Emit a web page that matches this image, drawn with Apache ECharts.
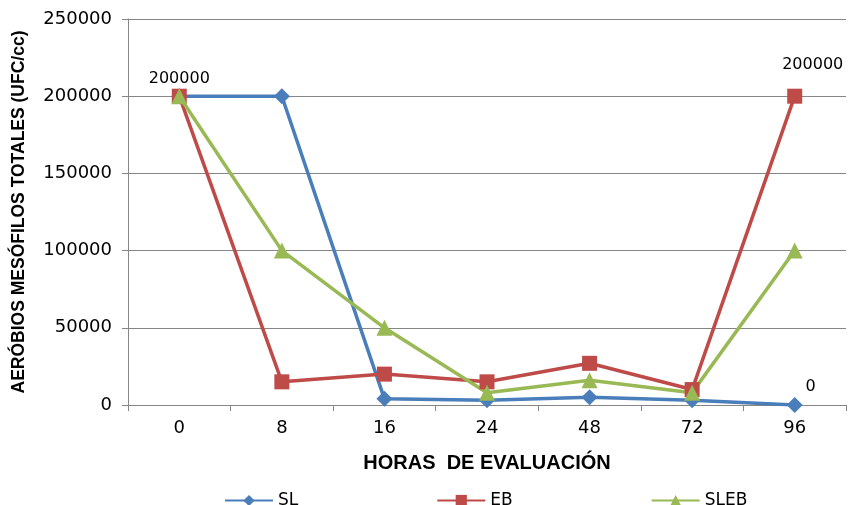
<!DOCTYPE html>
<html><head><meta charset="utf-8">
<script src="https://cdn.jsdelivr.net/npm/echarts@6/dist/echarts.min.js"></script>
<style>html,body{margin:0;padding:0;background:#fff}#c{width:850px;height:505px}</style>
</head><body><div id="c"></div>
<script>
const categories = ['0','8','16','24','48','72','96'];
const SL = [200000, 200000, 4000, 3000, 5000, 3000, 0];
const EB = [200000, 15000, 20000, 15000, 27000, 10000, 200000];
const SLEB = [200000, 100000, 50000, 8000, 16000, 8000, 100000];
const yTicks = [0, 50000, 100000, 150000, 200000, 250000];

const font = 'DejaVu Sans';
function withLabels(arr, labelled) {
  return arr.map((v, i) => labelled[i] ? {value: v, label: {show: true, position: 'inside', offset: labelled[i], color: '#000', fontFamily: font, fontSize: 16}} : v);
}
const chart = echarts.init(document.getElementById('c'));
chart.setOption({
  animation: false,
  grid: {left: 128, right: 4, top: 19, bottom: 100},
  legend: {
    left: 219, top: 487, itemWidth: 48, itemHeight: 14, itemGap: 138,
    textStyle: {fontFamily: font, fontSize: 17, color: '#000'},
    data: ['SL', 'EB', 'SLEB']
  },
  xAxis: {
    type: 'category', data: categories, boundaryGap: true,
    name: 'HORAS  DE EVALUACIÓN', nameLocation: 'middle', nameGap: 48,
    nameTextStyle: {fontFamily: 'Liberation Sans', fontWeight: 'bold', fontSize: 20, color: '#000'},
    axisLine: {lineStyle: {color: '#868686', width: 1}},
    axisTick: {show: true, length: 6, lineStyle: {color: '#868686'}},
    axisLabel: {fontFamily: font, fontSize: 18, color: '#000', margin: 14}
  },
  yAxis: {
    type: 'value', min: 0, max: 250000, interval: 50000,
    name: 'AERÓBIOS MESÓFILOS TOTALES (UFC/cc)', nameLocation: 'middle', nameGap: 100,
    nameTextStyle: {fontFamily: 'Liberation Sans', fontWeight: 'bold', fontSize: 17.5, color: '#000'},
    axisLine: {show: true, lineStyle: {color: '#868686', width: 1}},
    axisTick: {show: true, length: 6, lineStyle: {color: '#868686'}},
    splitLine: {lineStyle: {color: '#868686', width: 1}},
    axisLabel: {fontFamily: font, fontSize: 18, color: '#000', margin: 16,
      formatter: v => yTicks.includes(v) ? String(v) : ''}
  },
  series: [
    {name: 'SL', type: 'line', data: withLabels(SL, {6: [16, -18]}), symbol: 'diamond', symbolSize: 16,
     lineStyle: {color: '#4a7ebb', width: 3.5}, itemStyle: {color: '#4a7ebb'}},
    {name: 'EB', type: 'line', data: withLabels(EB, {0: [0, -17], 6: [18, -31]}), symbol: 'rect', symbolSize: 15,
     lineStyle: {color: '#be4b48', width: 3.5}, itemStyle: {color: '#be4b48'}},
    {name: 'SLEB', type: 'line', data: SLEB, symbol: 'triangle', symbolSize: 16,
     lineStyle: {color: '#98b954', width: 3.5}, itemStyle: {color: '#98b954'}}
  ]
});
</script></body></html>
